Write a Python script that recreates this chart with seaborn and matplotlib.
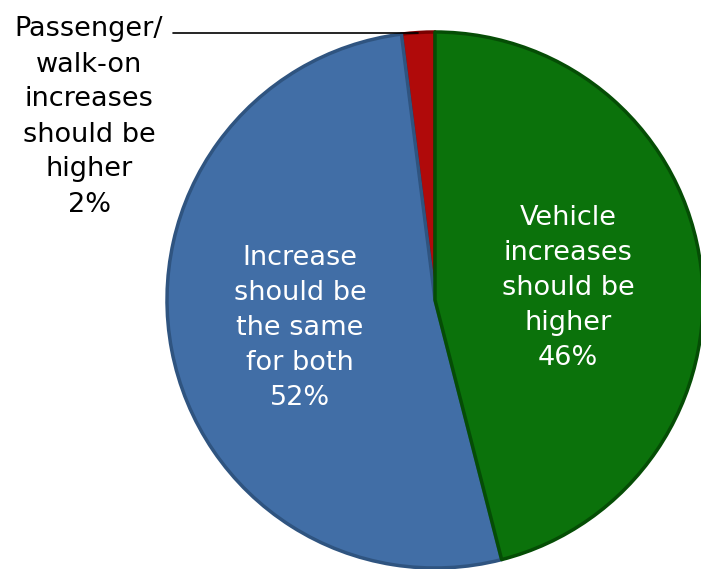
import matplotlib
matplotlib.use("Agg")
import matplotlib.pyplot as plt
import seaborn as sns

# Survey answers, counter-clockwise from 12 o'clock
categories = [
    "Passenger/\nwalk-on\nincreases\nshould be\nhigher",
    "Increase\nshould be\nthe same\nfor both",
    "Vehicle\nincreases\nshould be\nhigher",
]
shares = [2, 52, 46]
colors = ["#b00a0a", "#416ea6", "#0b720b"]
edge_colors = ["#7a0000", "#2f5480", "#054d05"]

sns.set_theme(style="white")
plt.rcParams["font.family"] = ["DejaVu Sans"]

W, H = 701, 569
cx, cy, r = 435, 300, 268

fig = plt.figure(figsize=(W / 100, H / 100), dpi=100)
ax = fig.add_axes([0, 0, 1, 1])

wedges, _ = ax.pie(
    shares,
    colors=colors,
    startangle=90,
    counterclock=True,
    radius=r,
    center=(0, 0),
    frame=True,
    wedgeprops=dict(linewidth=0),
)
# darker rim to mimic the bevel
for w, ec in zip(wedges, edge_colors):
    w.set_edgecolor(ec)
    w.set_linewidth(2.5)
    w.set_joinstyle("round")

ax.set_xlim(-cx, W - cx)
ax.set_ylim(cy - H, cy)
ax.set_aspect("equal")
ax.axis("off")

labels = [f"{c}\n{s}%" for c, s in zip(categories, shares)]
fs, ls = 19.5, 1.45

# inner labels
ax.text(300 - cx, cy - 328, labels[1], color="white", fontsize=fs,
        ha="center", va="center", linespacing=ls)
ax.text(568 - cx, cy - 288, labels[2], color="white", fontsize=fs,
        ha="center", va="center", linespacing=ls)

# outside label with leader line
ax.text(89 - cx, cy - 117, labels[0], color="black", fontsize=fs,
        ha="center", va="center", linespacing=ls)
ax.plot([173 - cx, 418 - cx], [cy - 33, cy - 33], color="black", lw=1.2)

fig.savefig("out.png", dpi=100)
